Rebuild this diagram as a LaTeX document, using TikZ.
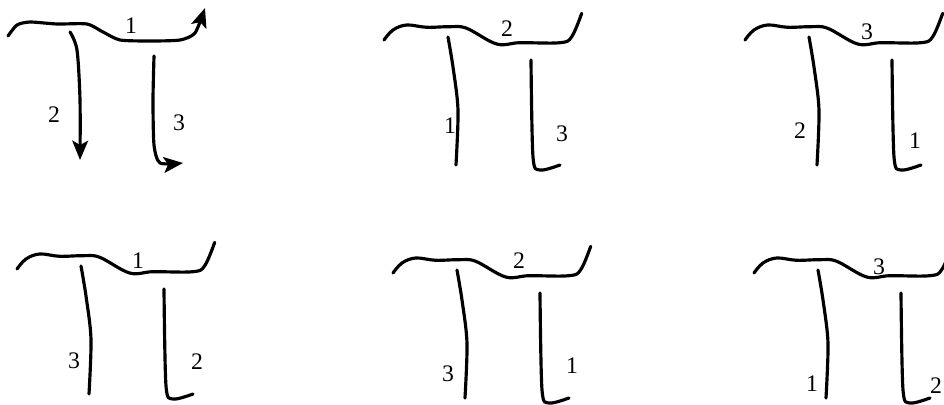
\documentclass[tikz,border=0pt]{standalone}
\usepackage{fontspec}
\setmainfont{Liberation Serif}
\usetikzlibrary{arrows.meta}
\tikzset{
  pistroke/.style={line width=1.8pt,line cap=round,line join=round},
  piarrow/.style={pistroke,-{Stealth[length=11pt,width=9pt,inset=2.5pt]}},
  pinumber/.style={font=\fontsize{13.5}{15}\selectfont,inner sep=0pt},
  pishape/.pic={
    \draw[pistroke] plot[smooth,tension=0.6] coordinates {(0,0) (9,-10) (22.7,-15) (42.7,-12.7) (66,-13.3) (82.7,-11.7) (112.7,4) (136,2.7) (176,2.7) (187.7,-3.3) (197.7,-26.7)};
    \draw[pistroke] plot[smooth] coordinates {(64,-3) (69,27) (74,70) (72,125)};
    \draw[pistroke] plot[smooth] coordinates {(147,20) (149,117) (156,130) (176,125)};
  }
}

\begin{document}
\begin{tikzpicture}[x=0.02cm,y=-0.02cm]
  \useasboundingbox (0,0) rectangle (944,405);
  % first one, with the directions
  \draw[piarrow] plot[smooth,tension=0.4] coordinates {(8,36) (17,25) (30,22) (57,24) (87,24) (103,32) (120,40) (150,41) (180,40) (195,33) (205,8)};
  \draw[piarrow] plot[smooth] coordinates {(70,32) (77,50) (80,100) (80,160)};
  \draw[piarrow] plot[smooth,tension=0.4] coordinates {(154,56) (153,100) (154,145) (160,163) (183,163)};
  \node[pinumber] (a1) at (131,26) {1};
  \node[pinumber] (a2) at (54,115) {2};
  \node[pinumber] (a3) at (179,123) {3};
  % the other five
  \pic at (384,40) {pishape};
  \node[pinumber] (b1) at (507,29) {2};
  \node[pinumber] (b2) at (450,126) {1};
  \node[pinumber] (b3) at (562,134) {3};
  \pic at (745,40) {pishape};
  \node[pinumber] (c1) at (867,32) {3};
  \node[pinumber] (c2) at (800,131) {2};
  \node[pinumber] (c3) at (915,141) {1};
  \pic at (17,269) {pishape};
  \node[pinumber] (d1) at (138,261) {1};
  \node[pinumber] (d2) at (74,361) {3};
  \node[pinumber] (d3) at (197,362) {2};
  \pic at (393,273) {pishape};
  \node[pinumber] (e1) at (519,261) {2};
  \node[pinumber] (e2) at (448,374) {3};
  \node[pinumber] (e3) at (572,366) {1};
  \pic at (754,273) {pishape};
  \node[pinumber] (f1) at (879,267) {3};
  \node[pinumber] (f2) at (812,384) {1};
  \node[pinumber] (f3) at (936,386) {2};
\end{tikzpicture}
\end{document}
